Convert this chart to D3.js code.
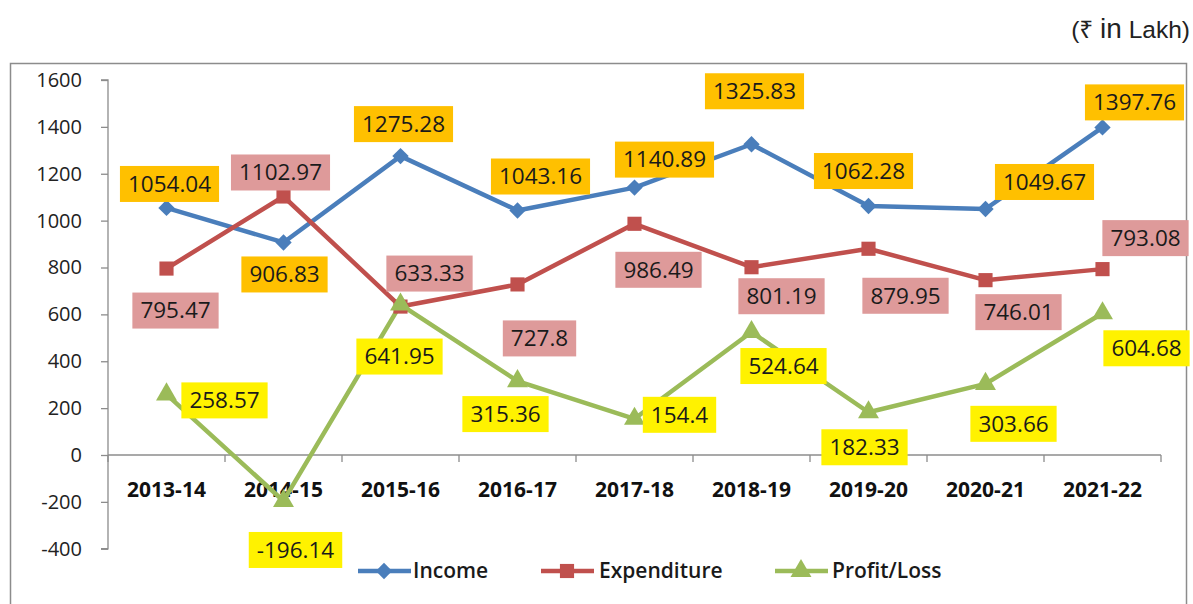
<!DOCTYPE html>
<html><head><meta charset="utf-8">
<script src="https://cdn.jsdelivr.net/npm/d3@7"></script>
<style>body{margin:0;background:#fff}svg{display:block}</style>
</head><body>
<svg id="c" width="1193" height="604"></svg>
<script>
const categories = ["2013-14","2014-15","2015-16","2016-17","2017-18","2018-19","2019-20","2020-21","2021-22"];
const income = [1054.04, 906.83, 1275.28, 1043.16, 1140.89, 1325.83, 1062.28, 1049.67, 1397.76];
const expenditure = [795.47, 1102.97, 633.33, 727.8, 986.49, 801.19, 879.95, 746.01, 793.08];
const profitLoss = [258.57, -196.14, 641.95, 315.36, 154.4, 524.64, 182.33, 303.66, 604.68];
const yTicks = [-400,-200,0,200,400,600,800,1000,1200,1400,1600];
const seriesNames = ["Income","Expenditure","Profit/Loss"];

// label offsets (layout only) relative to the point, in px
const incomeLabelOff = [[3,-24],[1,32],[3,-32],[23,-34],[30,-28],[3,-53],[-5,-35],[59,-27],[32,-25]];
const expLabelOff = [[9,42],[-3,-24],[29,-33],[22,54],[24,46],[30,29],[37,47],[33,32],[43,-31]];
const plLabelOff = [[58,6],[12,49],[-1,52],[-12,33],[45,-4],[32,34],[-4,35],[28,40],[44,35]];

(function(){
const svg = d3.select("#c");
const pL = 108, pR = 1161, pT = 80, pB = 548.75;
const x = d3.scaleBand().domain(categories).range([pL, pR]);
const y = d3.scaleLinear().domain([-400, 1600]).range([pB, pT]);
const FONT = "'Open Sans',sans-serif";

svg.append("rect").attr("x",10.5).attr("y",63.5).attr("width",1176).attr("height",560)
  .attr("fill","none").attr("stroke","#8c8c8c").attr("stroke-width",1.5);

const unit = svg.append("text").attr("x",1190).attr("y",38).attr("text-anchor","end")
  .attr("font-family","'Liberation Sans','Noto Sans','DejaVu Sans',sans-serif").attr("font-size",24.5)
  .attr("fill","#222");
unit.append("tspan").text("(₹ ");
unit.append("tspan").attr("font-size",28).text("in");
unit.append("tspan").text(" Lakh)");

const yAxis = d3.axisLeft(y).tickValues(yTicks).tickSize(7).tickPadding(19).tickFormat(d => String(d));
const ga = svg.append("g").attr("transform",`translate(${pL},0)`).call(yAxis);
ga.select(".domain").attr("stroke","#8c8c8c").attr("stroke-width",1.3).attr("d",`M-7,${pT}H0V${pB}H-7`);
ga.selectAll(".tick line").attr("stroke","#8c8c8c").attr("stroke-width",1.3);
ga.selectAll(".tick text").attr("font-family",FONT).attr("font-size",20).attr("fill","#222");

const xAxis = d3.axisBottom(x).tickSize(0).tickPadding(27);
const gx = svg.append("g").attr("transform",`translate(0,${y(0)})`).call(xAxis);
gx.select(".domain").attr("stroke","#8c8c8c").attr("stroke-width",1.3).attr("d",`M${pL},0H${pR}`);
gx.selectAll(".tick text").attr("font-family",FONT).attr("font-weight","bold")
  .attr("font-size",21).attr("fill","#111");
const bounds = categories.map(c => x(c)).concat([pR]);
svg.append("g").selectAll("line").data(bounds).join("line")
  .attr("x1",d=>d).attr("x2",d=>d).attr("y1",y(0)).attr("y2",y(0)+7)
  .attr("stroke","#8c8c8c").attr("stroke-width",1.3);

const cx = c => x(c) + x.bandwidth()/2;
const series = [
  {name:seriesNames[0], vals:income, color:"#4A7EBB", sym:d3.symbolDiamond2, size:170, lab:"#FFC000", off:incomeLabelOff},
  {name:seriesNames[1], vals:expenditure, color:"#C0504D", sym:d3.symbolSquare, size:200, lab:"#DE9A9A", off:expLabelOff},
  {name:seriesNames[2], vals:profitLoss, color:"#9BBB59", sym:d3.symbolTriangle, size:190, lab:"#FFF200", off:plLabelOff}
];
const line = d3.line().x((d,i)=>cx(categories[i])).y(d=>y(d));
series.forEach(s=>{
  svg.append("path").datum(s.vals).attr("d",line).attr("fill","none")
    .attr("stroke",s.color).attr("stroke-width",4.5).attr("stroke-linejoin","round");
});
series.forEach(s=>{
  svg.append("g").selectAll("path").data(s.vals).join("path")
    .attr("transform",(d,i)=>`translate(${cx(categories[i])},${y(d)})`)
    .attr("d",d3.symbol().type(s.sym).size(s.size)).attr("fill",s.color);
});
series.forEach(s=>{
  s.vals.forEach((v,i)=>{
    const px = cx(categories[i]) + s.off[i][0], py = y(v) + s.off[i][1];
    const g = svg.append("g");
    const r = g.append("rect").attr("fill",s.lab);
    const t = g.append("text").attr("x",px).attr("y",py).attr("dy","0.35em").attr("text-anchor","middle")
      .attr("font-family",FONT).attr("font-size",22.5).attr("fill","#1a1a1a").text(v);
    const w = t.node().getComputedTextLength();
    r.attr("x",px-w/2-8).attr("y",py-18).attr("width",w+16).attr("height",36);
  });
});

const legY = 571;
const legItems = [{x:358, tx:413}, {x:541, tx:599}, {x:775, tx:832}];
series.forEach((s,i)=>{
  const L = legItems[i];
  svg.append("line").attr("x1",L.x).attr("x2",L.x+53).attr("y1",legY).attr("y2",legY)
    .attr("stroke",s.color).attr("stroke-width",4.5);
  svg.append("path").attr("transform",`translate(${L.x+26},${legY})`)
    .attr("d",d3.symbol().type(s.sym).size(s.size)).attr("fill",s.color);
  svg.append("text").attr("x",L.tx).attr("y",legY).attr("dy","0.35em")
    .attr("font-family",FONT).attr("font-weight","600").attr("font-size",21)
    .attr("fill","#1a1a1a").text(s.name);
});
})();
</script>
</body></html>
